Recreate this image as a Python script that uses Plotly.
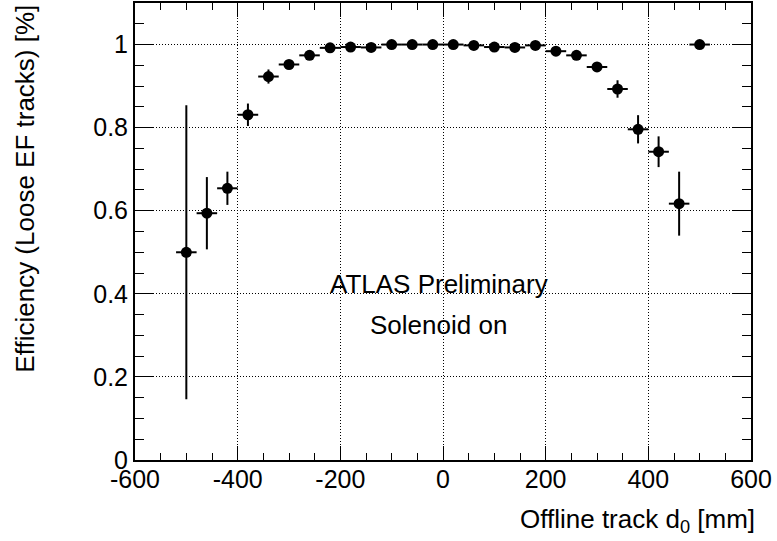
import plotly.graph_objects as go

# Data
d0 = [-500, -460, -420, -380, -340, -300, -260, -220, -180, -140, -100, -60, -20,
      20, 60, 100, 140, 180, 220, 260, 300, 340, 380, 420, 460, 500]
eff = [0.500, 0.594, 0.654, 0.831, 0.923, 0.952, 0.974, 0.992, 0.994, 0.993, 1.000, 1.000, 1.000,
       1.000, 0.998, 0.994, 0.993, 0.998, 0.984, 0.974, 0.946, 0.893, 0.796, 0.742, 0.617, 1.000]
eff_err = [0.354, 0.087, 0.040, 0.027, 0.017, 0.009, 0.006, 0.004, 0.003, 0.004, 0.001, 0.001, 0.001,
           0.001, 0.002, 0.003, 0.003, 0.002, 0.005, 0.006, 0.010, 0.021, 0.034, 0.037, 0.077, 0.0]
bin_half_width = [20] * len(d0)

x_ticks = [-600, -400, -200, 0, 200, 400, 600]
x_tick_labels = ["-600", "-400", "-200", "0", "200", "400", "600"]
y_ticks = [0, 0.2, 0.4, 0.6, 0.8, 1]
y_tick_labels = ["0", "0.2", "0.4", "0.6", "0.8", "1"]

FONT = "Liberation Sans, Arial, Helvetica, sans-serif"

fig = go.Figure()
fig.add_trace(go.Scatter(
    x=d0, y=eff, mode="markers",
    marker=dict(color="black", size=11, symbol="circle"),
    error_y=dict(type="data", array=eff_err, color="black", thickness=2, width=0),
    error_x=dict(type="data", array=bin_half_width, color="black", thickness=2, width=0),
    showlegend=False,
))

axis_common = dict(
    showline=True, linecolor="black", linewidth=2, mirror="allticks",
    ticks="inside", tickcolor="black", tickwidth=1,
    showgrid=True, gridcolor="black", griddash="1px,2px", gridwidth=1,
    zeroline=False,
    tickfont=dict(family=FONT, size=25, color="black"),
)

fig.update_xaxes(
    range=[-600, 600], tickvals=x_ticks, ticktext=x_tick_labels, ticklen=14,
    ticklabelstandoff=-4,
    minor=dict(dtick=50, tick0=0, ticks="inside", ticklen=7, tickcolor="black", showgrid=False),
    **axis_common,
)
fig.update_yaxes(
    range=[0, 1.1], tickvals=y_ticks, ticktext=y_tick_labels, ticklen=18,
    minor=dict(dtick=0.05, tick0=0, ticks="inside", ticklen=9, tickcolor="black", showgrid=False),
    **axis_common,
)

fig.add_annotation(text="ATLAS Preliminary", xref="paper", yref="y",
                   x=0.4935, y=0.424, showarrow=False, xanchor="center", yanchor="middle",
                   font=dict(family=FONT, size=26, color="black"))
fig.add_annotation(text="Solenoid on", xref="paper", yref="y",
                   x=0.4935, y=0.325, showarrow=False, xanchor="center", yanchor="middle",
                   font=dict(family=FONT, size=26, color="black"))
fig.add_annotation(text="Efficiency (Loose EF tracks) [%]", xref="paper", yref="paper",
                   x=-0.180, y=0.594, textangle=-90, showarrow=False,
                   xanchor="center", yanchor="middle",
                   font=dict(family=FONT, size=26, color="black"))
fig.add_annotation(text="Offline track d<sub>0</sub> [mm]", xref="paper", yref="paper",
                   x=1.0097, y=-0.133, showarrow=False, xanchor="right", yanchor="middle",
                   font=dict(family=FONT, size=26, color="black"))

fig.update_layout(
    width=777, height=541,
    margin=dict(l=135, r=26, t=1, b=81),
    paper_bgcolor="white", plot_bgcolor="white",
    font=dict(family=FONT, color="black"),
)

fig.write_html("out.html")
